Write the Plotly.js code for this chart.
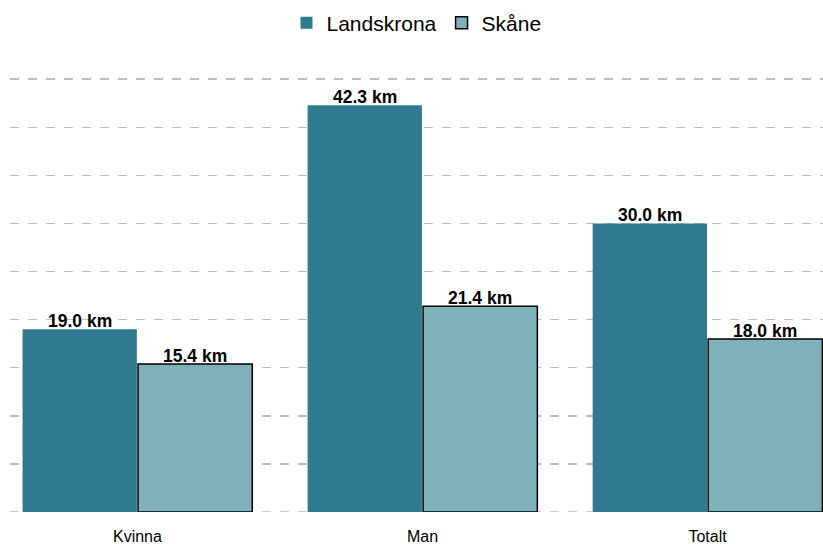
<!DOCTYPE html>
<html>
<head>
<meta charset="utf-8">
<script src="https://cdn.plot.ly/plotly-3.0.1.min.js"></script>
<style>
  html, body { margin: 0; padding: 0; background: #fff; }
  #chart { width: 823px; height: 544px; }
</style>
</head>
<body>
<div id="chart"></div>
<script>
// Data
const categories = ['Kvinna', 'Man', 'Totalt'];
const landskrona = [19.0, 42.3, 30.0];
const skane = [15.4, 21.4, 18.0];

const fmt = v => v.toFixed(1) + ' km';
const labelFont = { family: 'Liberation Sans, Arial, sans-serif', size: 17.5, color: '#000', weight: 'bold' };

const traces = [
    {
        type: 'bar', name: 'Landskrona',
        x: categories, y: landskrona,
        marker: { color: '#2f7a8e', line: { width: 0 } },
        hoverinfo: 'skip'
    },
    {
        type: 'bar', name: 'Skåne',
        x: categories, y: skane,
        marker: { color: '#7eb1ba', line: { color: '#000', width: 1.5 } },
        hoverinfo: 'skip'
    }
];

// value labels sitting on the bars (half a bar width each side of the category)
const labels = [];
categories.forEach((c, i) => {
    labels.push({ x: c, y: landskrona[i], text: fmt(landskrona[i]), xshift: -57.5 });
    labels.push({ x: c, y: skane[i], text: fmt(skane[i]), xshift: 57.5 });
});
const annotations = labels.map(l => ({
    ...l, xref: 'x', yref: 'y', showarrow: false,
    xanchor: 'center', yanchor: 'bottom', yshift: -4,
    font: labelFont
}));

const layout = {
    width: 823, height: 544,
    paper_bgcolor: '#fff', plot_bgcolor: '#fff',
    font: { family: 'Liberation Sans, Arial, sans-serif', color: '#000' },
    margin: { t: 60, b: 32, l: 10, r: 0 },
    barmode: 'group', bargap: 0.19, bargroupgap: 0.01,
    showlegend: true,
    legend: {
        orientation: 'h', x: 0.5, xanchor: 'center', y: 0.995, yref: 'container', yanchor: 'top',
        font: { size: 21 }, traceorder: 'normal'
    },
    xaxis: {
        range: [-0.447, 2.405], showgrid: false, zeroline: false, showline: false,
        ticks: '', ticklabelstandoff: 13,
        tickfont: { size: 16 }
    },
    yaxis: {
        range: [0, 47], dtick: 5, showticklabels: false, zeroline: false,
        showgrid: true, gridcolor: '#bdbdbd', gridwidth: 1.5, griddash: 'dash'
    },
    annotations: annotations,
    shapes: [{
        type: 'line', layer: 'below', xref: 'paper', yref: 'y',
        x0: 0, x1: 1, y0: 0, y1: 0,
        line: { color: '#bdbdbd', width: 1.5, dash: 'dash' }
    }]
};

Plotly.newPlot('chart', traces, layout, { displayModeBar: false, staticPlot: true });
</script>
</body>
</html>
